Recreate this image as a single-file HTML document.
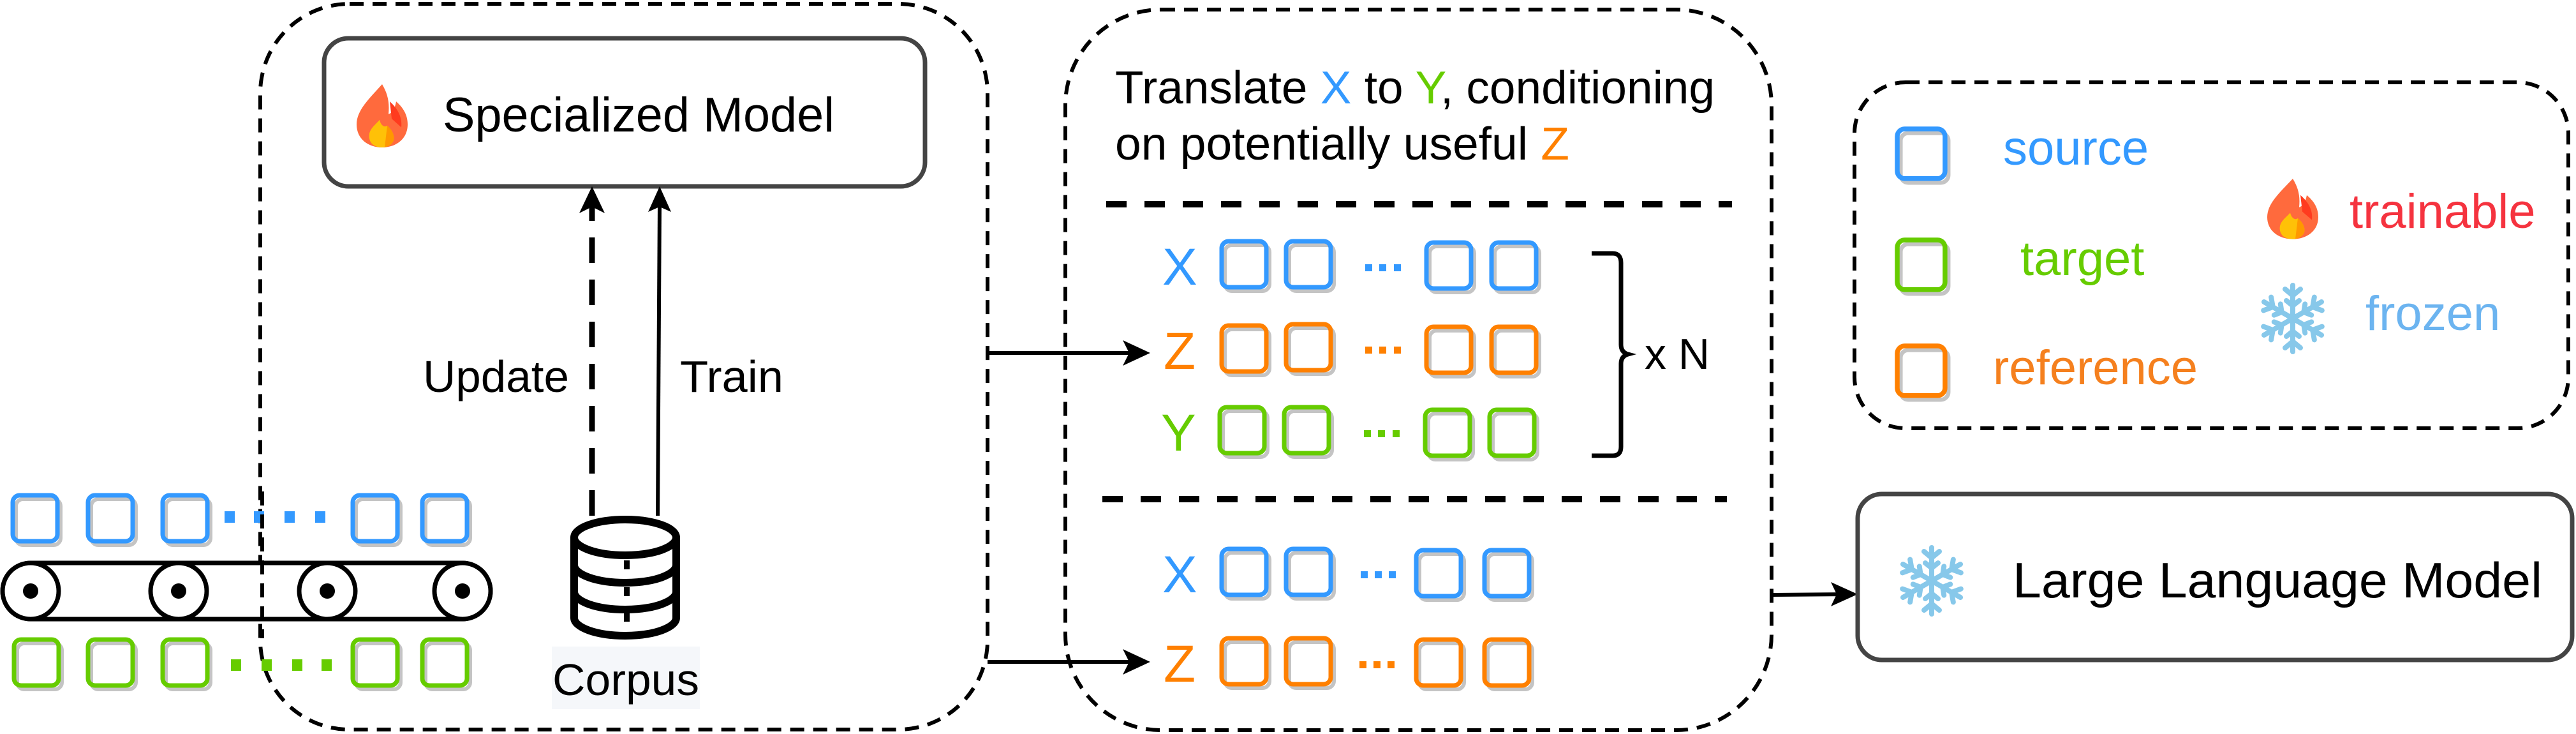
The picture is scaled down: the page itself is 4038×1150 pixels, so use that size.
<!DOCTYPE html>
<html><head><meta charset="utf-8"><style>
html,body{margin:0;padding:0;background:#fff;}
svg{display:block;font-family:"Liberation Sans",Arial,sans-serif;}
</style></head><body>
<svg width="4038" height="1150" viewBox="0 0 4038 1150" xmlns="http://www.w3.org/2000/svg">
<defs>
<g id="sq"><rect x="5" y="6" width="70" height="72" rx="11" fill="none" stroke="#c4c4c4" stroke-width="6"/><rect x="0" y="0" width="70" height="72" rx="11" fill="none" stroke="currentColor" stroke-width="7"/></g>
<g id="flame">
<path d="M40 0 C20 25 0 45 0 70 C0 95 18 110 40 110 C62 110 80 95 80 70 C80 50 70 38 62 30 C60 42 56 50 50 52 C52 30 48 15 40 0Z" fill="#ff6a3d"/>
<path d="M52 30 C62 40 72 55 70 75 L55 60 Z" fill="#ff3b1f"/>
<path d="M40 110 C24 110 18 98 20 86 C22 76 30 70 36 62 C38 72 44 76 48 72 C56 80 60 90 58 98 C55 106 48 110 40 110Z" fill="#ffc107"/>
<path d="M40 110 C48 110 55 106 58 98 C60 90 56 80 48 72 L44 110Z" fill="#ff9800"/>
</g>
<g id="snow" stroke="#87c8ea" stroke-width="8" stroke-linecap="round" fill="none">
<g id="arm"><line x1="0" y1="0" x2="0" y2="-52"/><polyline points="-12,-46 0,-36 12,-46"/><polyline points="-10,-28 0,-20 10,-28"/></g>
<use href="#arm" transform="rotate(60)"/><use href="#arm" transform="rotate(120)"/><use href="#arm" transform="rotate(180)"/><use href="#arm" transform="rotate(240)"/><use href="#arm" transform="rotate(300)"/>
</g>
</defs>

<!-- left dashed container -->
<rect x="408" y="6" width="1140" height="1137" rx="140" fill="none" stroke="#000" stroke-width="6" stroke-dasharray="22 14"/>
<!-- Specialized model box -->
<rect x="508" y="60" width="942" height="232" rx="38" fill="#fff" stroke="#444" stroke-width="7"/>
<use href="#flame" transform="translate(559,132) scale(1,0.9)"/>
<text x="694" y="206" font-size="76" textLength="614" lengthAdjust="spacingAndGlyphs">Specialized Model</text>

<!-- arrows -->
<line x1="928" y1="808" x2="928" y2="318" stroke="#000" stroke-width="9" stroke-dasharray="40 26"/>
<path d="M928 292 L948 334 L928 324 L908 334Z" fill="#000"/>
<line x1="1031" y1="808" x2="1034" y2="318" stroke="#000" stroke-width="6"/>
<path d="M1034 292 L1052 332 L1034 324 L1016 332Z" fill="#000"/>
<text x="663" y="614" font-size="70" textLength="229" lengthAdjust="spacingAndGlyphs">Update</text>
<text x="1066" y="614" font-size="70" textLength="162" lengthAdjust="spacingAndGlyphs">Train</text>

<!-- database -->
<g stroke="#000" stroke-width="12" fill="#fff">
<path d="M900 842 L900 968 A80 28 0 0 0 1060 968 L1060 842"/>
<ellipse cx="980" cy="842" rx="80" ry="28"/>
<path d="M900 885 A80 28 0 0 0 1060 885" fill="none"/>
<path d="M900 927 A80 28 0 0 0 1060 927" fill="none"/>
</g>
<g fill="#000"><rect x="978" y="878" width="9" height="14"/><rect x="978" y="920" width="9" height="14"/><rect x="978" y="960" width="9" height="14"/></g>
<rect x="865" y="1013" width="232" height="98" fill="#f5f7fa"/>
<text x="866" y="1089" font-size="70" textLength="230" lengthAdjust="spacingAndGlyphs">Corpus</text>

<!-- conveyor -->
<g stroke="#000" stroke-width="7" fill="#fff">
<path d="M48 882 L725 882 A44 44 0 0 1 725 970 L48 970 A44 44 0 0 1 48 882Z"/>
<circle cx="48" cy="926" r="44"/><circle cx="280" cy="926" r="44"/><circle cx="513" cy="926" r="44"/><circle cx="725" cy="926" r="44"/>
</g>
<g fill="#000"><circle cx="48" cy="926" r="12"/><circle cx="280" cy="926" r="12"/><circle cx="513" cy="926" r="12"/><circle cx="725" cy="926" r="12"/></g>
<g color="#3399ff"><use href="#sq" x="20" y="776"/><use href="#sq" x="138" y="776"/><use href="#sq" x="255" y="776"/><use href="#sq" x="553" y="776"/><use href="#sq" x="662" y="776"/></g>
<g fill="#3399ff"><rect x="352" y="801" width="16" height="18"/><rect x="398" y="801" width="16" height="18"/><rect x="446" y="801" width="16" height="18"/><rect x="494" y="801" width="16" height="18"/></g>
<g color="#66cc00"><use href="#sq" x="22" y="1002"/><use href="#sq" x="138" y="1002"/><use href="#sq" x="255" y="1002"/><use href="#sq" x="553" y="1002"/><use href="#sq" x="662" y="1002"/></g>
<g fill="#66cc00"><rect x="362" y="1033" width="16" height="18"/><rect x="410" y="1033" width="16" height="18"/><rect x="458" y="1033" width="16" height="18"/><rect x="504" y="1033" width="16" height="18"/></g>
<line x1="411" y1="770" x2="411" y2="1000" stroke="#000" stroke-width="6" stroke-dasharray="22 14"/>

<!-- arrows to middle -->
<line x1="1548" y1="553" x2="1790" y2="553" stroke="#000" stroke-width="6"/>
<path d="M1803 553 L1760 533 L1770 553 L1760 573Z" fill="#000"/>
<line x1="1548" y1="1037" x2="1790" y2="1037" stroke="#000" stroke-width="6"/>
<path d="M1803 1037 L1760 1017 L1770 1037 L1760 1057Z" fill="#000"/>

<!-- middle dashed container -->
<rect x="1670" y="15" width="1107" height="1129" rx="150" fill="none" stroke="#000" stroke-width="6" stroke-dasharray="22 14"/>
<text x="1748" y="162" font-size="72" textLength="940" lengthAdjust="spacingAndGlyphs">Translate <tspan fill="#3399ff">X</tspan> to <tspan fill="#66cc00">Y</tspan>, conditioning</text>
<text x="1748" y="250" font-size="72" textLength="712" lengthAdjust="spacingAndGlyphs">on potentially useful <tspan fill="#ff8000">Z</tspan></text>
<line x1="1734" y1="320" x2="2715" y2="320" stroke="#000" stroke-width="10" stroke-dasharray="32 28"/>
<line x1="1728" y1="782" x2="2707" y2="782" stroke="#000" stroke-width="10" stroke-dasharray="32 28"/>

<g font-size="82">
<text x="1822" y="446" fill="#3399ff">X</text>
<text x="1824" y="578" fill="#ff8000">Z</text>
<text x="1820" y="706" fill="#66cc00">Y</text>
<text x="1822" y="928" fill="#3399ff">X</text>
<text x="1824" y="1068" fill="#ff8000">Z</text>
</g>
<g color="#3399ff"><use href="#sq" x="1915" y="378"/><use href="#sq" x="2016" y="378"/><use href="#sq" x="2236" y="380"/><use href="#sq" x="2338" y="380"/></g>
<g fill="#3399ff"><rect x="2140" y="414" width="11" height="11"/><rect x="2162" y="414" width="11" height="11"/><rect x="2185" y="414" width="11" height="11"/></g>
<g color="#ff8000"><use href="#sq" x="1915" y="510"/><use href="#sq" x="2016" y="508"/><use href="#sq" x="2236" y="512"/><use href="#sq" x="2338" y="512"/></g>
<g fill="#ff8000"><rect x="2140" y="543" width="11" height="11"/><rect x="2162" y="543" width="11" height="11"/><rect x="2185" y="543" width="11" height="11"/></g>
<g color="#66cc00"><use href="#sq" x="1912" y="638"/><use href="#sq" x="2013" y="638"/><use href="#sq" x="2234" y="642"/><use href="#sq" x="2335" y="642"/></g>
<g fill="#66cc00"><rect x="2138" y="674" width="11" height="11"/><rect x="2160" y="674" width="11" height="11"/><rect x="2183" y="674" width="11" height="11"/></g>
<g color="#3399ff"><use href="#sq" x="1915" y="860"/><use href="#sq" x="2016" y="860"/><use href="#sq" x="2220" y="862"/><use href="#sq" x="2327" y="862"/></g>
<g fill="#3399ff"><rect x="2133" y="895" width="11" height="11"/><rect x="2155" y="895" width="11" height="11"/><rect x="2177" y="895" width="11" height="11"/></g>
<g color="#ff8000"><use href="#sq" x="1915" y="1000"/><use href="#sq" x="2016" y="1000"/><use href="#sq" x="2220" y="1002"/><use href="#sq" x="2327" y="1002"/></g>
<g fill="#ff8000"><rect x="2131" y="1036" width="11" height="11"/><rect x="2153" y="1036" width="11" height="11"/><rect x="2175" y="1036" width="11" height="11"/></g>

<!-- brace -->
<path d="M2495 397 L2528 397 Q2541 397 2541 412 L2541 540 Q2541 552 2552 555 Q2541 558 2541 570 L2541 700 Q2541 714 2528 714 L2495 714" fill="none" stroke="#000" stroke-width="7"/>
<text x="2578" y="578" font-size="68">x N</text>

<!-- arrow to LLM -->
<line x1="2777" y1="932" x2="2898" y2="931" stroke="#000" stroke-width="6"/>
<path d="M2912 931 L2870 912 L2879 931 L2870 950Z" fill="#000"/>

<!-- legend -->
<rect x="2907" y="129" width="1119" height="542" rx="80" fill="none" stroke="#000" stroke-width="6" stroke-dasharray="22 14"/>
<g color="#3399ff"><use href="#sq" transform="translate(2974,202) scale(1.07,1.08)"/></g>
<g color="#66cc00"><use href="#sq" transform="translate(2974,376) scale(1.07,1.08)"/></g>
<g color="#ff8000"><use href="#sq" transform="translate(2974,542) scale(1.07,1.08)"/></g>
<g font-size="76">
<text x="3140" y="258" fill="#3399ff">source</text>
<text x="3167" y="431" fill="#66cc00">target</text>
<text x="3124" y="602" fill="#f5801e">reference</text>
<text x="3683" y="357" fill="#f5333f">trainable</text>
<text x="3708" y="517" fill="#6cb4f0">frozen</text>
</g>
<use href="#flame" transform="translate(3554,280) scale(1,0.86)"/>
<use href="#snow" transform="translate(3594,499)"/>

<!-- LLM box -->
<rect x="2912" y="774" width="1120" height="260" rx="38" fill="#fff" stroke="#444" stroke-width="7"/>
<use href="#snow" transform="translate(3028,910)"/>
<text x="3155" y="936" font-size="78" textLength="830" lengthAdjust="spacingAndGlyphs">Large Language Model</text>
</svg>
</body></html>
